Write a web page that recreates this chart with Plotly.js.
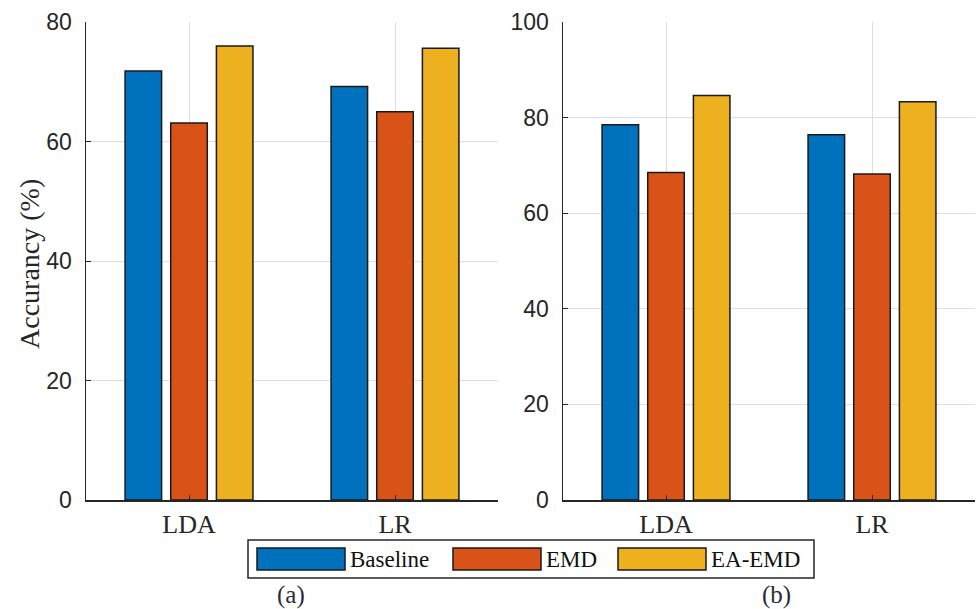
<!DOCTYPE html>
<html>
<head>
<meta charset="utf-8">
<script src="https://cdn.plot.ly/plotly-3.0.1.min.js"></script>
<style>html,body{margin:0;padding:0;background:#fff;}#chart{width:977px;height:609px;}</style>
</head>
<body>
<div id="chart"></div>
<script>
// ---- data ----
const categories = ["LDA", "LR"];
const seriesNames = ["Baseline", "EMD", "EA-EMD"];
const seriesColors = ["#0072BD", "#D95319", "#EDB120"];
const valuesA_Baseline = [71.8, 69.2];
const valuesA_EMD = [63.1, 65.0];
const valuesA_EAEMD = [76.0, 75.6];
const valuesB_Baseline = [78.5, 76.4];
const valuesB_EMD = [68.5, 68.2];
const valuesB_EAEMD = [84.6, 83.3];
const yTicksA = [0, 20, 40, 60, 80];
const yTicksB = [0, 20, 40, 60, 80, 100];
const yTitle = "Accurancy (%)";
const panelLabels = ["(a)", "(b)"];

const W = 977, H = 609;
const px = x => x / W;
const py = y => 1 - y / H;

const seriesA = [valuesA_Baseline, valuesA_EMD, valuesA_EAEMD];
const seriesB = [valuesB_Baseline, valuesB_EMD, valuesB_EAEMD];

const traces = [];
seriesA.forEach((v, i) => traces.push({
  type: "bar", x: categories, y: v, name: seriesNames[i], xaxis: "x", yaxis: "y",
  marker: {color: seriesColors[i], line: {color: "#1a1a1a", width: 1.5}}, showlegend: false
}));
seriesB.forEach((v, i) => traces.push({
  type: "bar", x: categories, y: v, name: seriesNames[i], xaxis: "x2", yaxis: "y2",
  marker: {color: seriesColors[i], line: {color: "#1a1a1a", width: 1.5}}, showlegend: false
}));

const numFont = {family: "Liberation Sans Narrow, Liberation Sans, Arial, sans-serif", size: 23, color: "#262626"};
const catFont = {family: "Liberation Serif, Times New Roman, serif", size: 26, color: "#262626"};

function xAx(domain, anchor) {
  return {
    domain: domain, anchor: anchor, type: "category", range: [-0.5, 1.5],
    showgrid: true, gridcolor: "#dedede", gridwidth: 1,
    showline: true, linecolor: "#262626", linewidth: 1.5,
    ticks: "inside", ticklen: 5, tickcolor: "#262626",
    tickfont: catFont, zeroline: false, fixedrange: true
  };
}
function yAx(range, tickvals, anchor) {
  return {
    domain: [py(500), py(22)], anchor: anchor, range: range,
    tickmode: "array", tickvals: tickvals, ticktext: tickvals.map(String),
    showgrid: true, gridcolor: "#dedede", gridwidth: 1,
    showline: true, linecolor: "#262626", linewidth: 1.5,
    ticks: "inside", ticklen: 5, tickcolor: "#262626",
    tickfont: numFont, zeroline: false, ticklabelstandoff: 8, fixedrange: true
  };
}

const layout = {
  width: W, height: H,
  margin: {l: 0, r: 0, t: 0, b: 0},
  paper_bgcolor: "#fff", plot_bgcolor: "#fff",
  barmode: "group", bargap: 0.335, bargroupgap: 0.2,
  showlegend: false,
  xaxis: xAx([px(86), px(498)], "y"),
  yaxis: yAx([0, 80], yTicksA, "x"),
  xaxis2: xAx([px(563), px(975)], "y2"),
  yaxis2: yAx([0, 100], yTicksB, "x2"),
  shapes: [], annotations: []
};

// y title for left panel
layout.annotations.push({
  xref: "paper", yref: "paper", x: px(29), y: py(264), text: yTitle, textangle: -90,
  showarrow: false, xanchor: "center", yanchor: "middle",
  font: {family: "Liberation Serif, Times New Roman, serif", size: 28, color: "#262626"}
});

// custom legend (MATLAB-style wide swatches)
layout.shapes.push({
  type: "rect", xref: "paper", yref: "paper",
  x0: px(248), x1: px(814), y0: py(578), y1: py(540),
  line: {color: "#262626", width: 1.5}, fillcolor: "#fff", layer: "above"
});
const swatchX = [257, 453, 618];
seriesNames.forEach((n, i) => {
  layout.shapes.push({
    type: "rect", xref: "paper", yref: "paper",
    x0: px(swatchX[i]), x1: px(swatchX[i] + 88), y0: py(570), y1: py(548),
    fillcolor: seriesColors[i], line: {color: "#1a1a1a", width: 1.5}, layer: "above"
  });
  layout.annotations.push({
    xref: "paper", yref: "paper", x: px(swatchX[i] + 91), y: py(559), text: n,
    showarrow: false, xanchor: "left", yanchor: "middle",
    font: {family: "Liberation Serif, Times New Roman, serif", size: 23, color: "#111"}
  });
});

// panel labels
[291, 776].forEach((x, i) => layout.annotations.push({
  xref: "paper", yref: "paper", x: px(x), y: py(595), text: panelLabels[i],
  showarrow: false, xanchor: "center", yanchor: "middle",
  font: {family: "Liberation Serif, Times New Roman, serif", size: 25, color: "#2b2b3b"}
}));

Plotly.newPlot("chart", traces, layout, {displayModeBar: false, staticPlot: true});
</script>
</body>
</html>
